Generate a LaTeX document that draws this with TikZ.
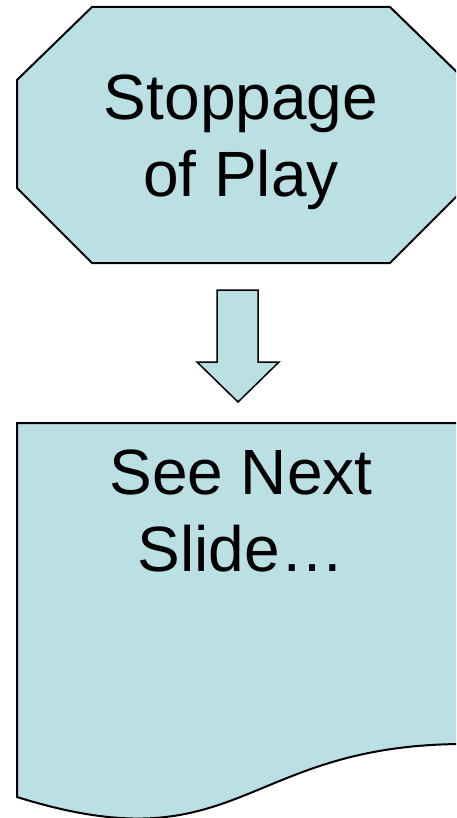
\documentclass[tikz,border=0pt]{standalone}
\usepackage{fontspec}
\setmainfont{Liberation Sans}
\definecolor{flowfill}{RGB}{187,224,227}
\begin{document}
\begin{tikzpicture}[x=1pt,y=-1pt,
  shapebox/.style={fill=flowfill,draw=black,line width=2pt,line join=miter},
  arrowbox/.style={fill=flowfill,draw=black,line width=1.5pt,line join=miter},
  label/.style={font=\fontsize{64}{77}\selectfont,anchor=base,inner sep=0pt}]
  \useasboundingbox (0,0) rectangle (456,818);
  \clip (0,0) rectangle (456,818);
  % octagon: stoppage of play
  \draw[shapebox] (17,80) -- (92,7) -- (390,7) -- (465,80) -- (465,188)
        -- (390,263) -- (92,263) -- (17,188) -- cycle;
  \node[label] (stopA) at (241,120) {Stoppage};
  \node[label] (stopB) at (241,197) {of Play};
  % block arrow down
  \draw[arrowbox] (217,290) -- (258,290) -- (258,362) -- (279,362)
        -- (238,402) -- (197,362) -- (217,362) -- cycle;
  % document shape with wavy bottom
  \draw[shapebox] (17,423) -- (465,423) -- (465,744)
        .. controls (241,744) and (241,867) .. (17,797) -- cycle;
  \node[label] (nextA) at (241,494) {See Next};
  \node[label] (nextB) at (241,571) {Slide…};
\end{tikzpicture}
\end{document}
